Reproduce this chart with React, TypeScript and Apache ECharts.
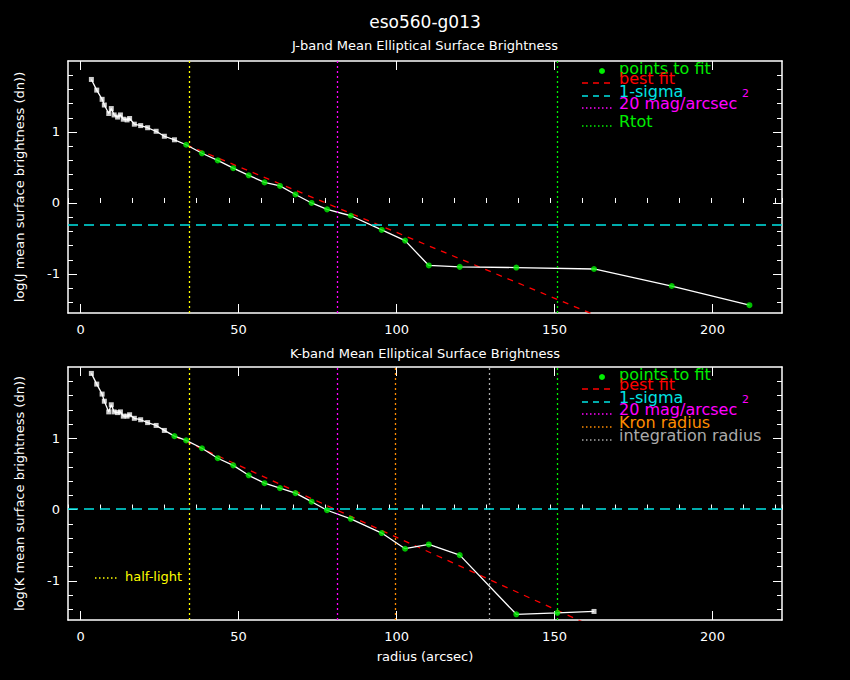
import React, { useEffect, useRef } from "react";
import * as echarts from "echarts";

const jRadius = [3.4,5.1,6.8,7.5,8.9,9.7,10.6,11.7,12.6,13.5,14.7,15.5,17.0,19.0,21.2,23.9,26.5,29.7,33.4,38.4,43.4,48.3,53.2,58.2,63.1,68.0,73.1,78.0,85.5,95.3,102.7,110.2,120.0,137.9,162.5,187.1,211.7];
const jLogSB = [1.74,1.59,1.46,1.38,1.26,1.33,1.24,1.21,1.24,1.18,1.17,1.19,1.11,1.09,1.06,1.01,0.94,0.89,0.82,0.70,0.60,0.49,0.39,0.29,0.24,0.12,0.0,-0.09,-0.18,-0.38,-0.53,-0.88,-0.90,-0.91,-0.93,-1.17,-1.44];
const jFitFrom = 18;
const jFit = [[33.4,0.82],[165,-1.62]];
const jSigma = -0.30;
const jVert = { half: 34.3, mag20: 81.2, rtot: 151.0 };

const kRadius = [3.4,5.1,6.8,7.5,8.9,9.7,10.6,11.7,12.6,13.5,14.7,15.5,17.0,19.0,21.2,23.9,26.5,29.7,33.4,38.4,43.4,48.3,53.2,58.2,63.1,68.0,73.1,78.0,85.5,95.3,102.7,110.2,120.0,137.9,150.9,162.5];
const kLogSB = [1.91,1.76,1.62,1.52,1.37,1.47,1.37,1.36,1.37,1.31,1.31,1.33,1.28,1.26,1.22,1.18,1.11,1.03,0.97,0.86,0.72,0.62,0.48,0.37,0.30,0.23,0.11,-0.01,-0.13,-0.33,-0.55,-0.49,-0.64,-1.47,-1.45,-1.43];
const kFitFrom = 17;
const kFitTo = 34;
const kFit = [[29.7,1.03],[160,-1.60]];
const kSigma = 0.01;
const kVert = { half: 34.3, mag20: 81.2, kron: 99.6, integ: 129.3, rtot: 150.9 };

const yMajor = [-1, 0, 1];
const yMinor = [-1.4, -1.2, -0.8, -0.6, -0.4, -0.2, 0.2, 0.4, 0.6, 0.8, 1.2, 1.4, 1.6, 1.8];
const xMajor = [0, 50, 100, 150, 200];

const FONT = "DejaVu Sans";

function axesFor(i: number, name: string, showXName: boolean) {
  const tick = { inside: true, length: 9, lineStyle: { color: "#fff" } };
  const minor = { show: true, splitNumber: 5, length: 4, lineStyle: { color: "#fff" } };
  const line = { lineStyle: { color: "#fff", width: 1.5 } };
  const x = [
    { type: "value", gridIndex: i, min: -4, max: 222, position: "bottom",
      axisLine: { ...line, onZero: false }, axisTick: { ...tick, customValues: xMajor }, splitLine: { show: false },
      axisLabel: { color: "#fff", fontFamily: FONT, fontSize: 13, margin: 10, customValues: xMajor },
      name: showXName ? "radius (arcsec)" : "", nameLocation: "middle", nameGap: 30,
      nameTextStyle: { color: "#fff", fontFamily: FONT, fontSize: 13 } },
    { type: "value", gridIndex: i, min: -4, max: 222, position: "top",
      axisLine: { ...line, onZero: false }, axisTick: { ...tick, customValues: xMajor },
      axisLabel: { show: false }, splitLine: { show: false } },
    { type: "value", gridIndex: i, min: 0, max: 222, interval: 10, position: "bottom",
      axisLine: { show: false }, axisTick: { inside: true, length: 5, lineStyle: { color: "#fff" } },
      axisLabel: { show: false }, splitLine: { show: false } },
  ];
  const mk = (pos: string, vals: number[], len: number, extra: any = {}) => ({
    type: "value", gridIndex: i, min: -1.55, max: 2.0, position: pos,
    axisLine: { ...line, onZero: false, show: len > 5 },
    axisTick: { inside: true, length: len, lineStyle: { color: "#fff" }, customValues: vals },
    axisLabel: { show: false }, splitLine: { show: false }, ...extra,
  });
  const y = [
    mk("left", yMajor, 9, {
      axisLabel: { color: "#fff", fontFamily: FONT, fontSize: 13, customValues: yMajor },
      name, nameLocation: "middle", nameGap: 42, nameRotate: 90,
      nameTextStyle: { color: "#fff", fontFamily: FONT, fontSize: 13 } }),
    mk("right", yMajor, 9),
    mk("left", yMinor, 5),
    mk("right", yMinor, 5),
  ];
  return { x, y };
}

function vline(x: number, color: string) {
  return { xAxis: x, lineStyle: { color, type: [2, 3], width: 1.3 } };
}

function panelSeries(i: number, r: number[], v: number[], fitFrom: number, fitTo: number, fit: number[][], sigma: number, verts: { x: number; c: string }[]) {
  const xi = i * 3, yi = i * 4;
  const all = r.map((x, k) => [x, v[k]]);
  const white = all.filter((_, k) => k < fitFrom || k > fitTo);
  const green = all.filter((_, k) => k >= fitFrom && k <= fitTo);
  return [
    { type: "line", xAxisIndex: xi, yAxisIndex: yi, data: all, symbol: "none", clip: true,
      lineStyle: { color: "#fff", width: 1.3 }, z: 3,
      markLine: { symbol: "none", silent: true, label: { show: false },
        data: [...verts.map((d) => vline(d.x, d.c)),
          { yAxis: sigma, lineStyle: { color: "#00e5e5", type: [10, 6], width: 1.5 } }] } },
    { type: "line", xAxisIndex: xi, yAxisIndex: yi, data: fit, symbol: "none", clip: true,
      lineStyle: { color: "#ff0000", type: [6, 6], width: 1.3 }, z: 2 },
    { type: "scatter", xAxisIndex: xi, yAxisIndex: yi, data: white, symbol: "rect", symbolSize: 5,
      itemStyle: { color: "#fff" }, z: 4 },
    { type: "scatter", xAxisIndex: xi, yAxisIndex: yi, data: green, symbol: "circle", symbolSize: 6,
      itemStyle: { color: "#00ee00" }, z: 5 },
  ];
}

function legend(top: number, entries: { t: string; c: string; kind: string }[], ys: number[]) {
  const els: any[] = [];
  entries.forEach((e, k) => {
    const y = top + ys[k];
    if (e.kind === "dot") {
      els.push({ type: "circle", shape: { cx: 602, cy: y + 5, r: 3 }, style: { fill: e.c } });
    } else {
      els.push({ type: "line", shape: { x1: 582, y1: y + 7, x2: 612, y2: y + 7 },
        style: { stroke: e.c, lineWidth: 1.3, lineDash: e.kind === "dash" ? [6, 5] : [1.5, 2.5] } });
    }
    els.push({ type: "text", x: 619, y: y - 6, style: { text: e.t, fill: e.c, font: `16px ${FONT}` } });
  });
  return els;
}

export default function App() {
  const ref = useRef<HTMLDivElement>(null);
  useEffect(() => {
    document.body.style.margin = "0";
    const chart = echarts.init(ref.current!, null, { renderer: "svg" });
    const a1 = axesFor(0, "log(J mean surface brightness (dn))", false);
    const a2 = axesFor(1, "log(K mean surface brightness (dn))", true);
    const topLegend = legend(55, [
      { t: "points to fit", c: "#00ee00", kind: "dot" },
      { t: "best fit", c: "#ff0000", kind: "dash" },
      { t: "1-sigma", c: "#00e5e5", kind: "dash" },
      { t: "20 mag/arcsec", c: "#ff00ff", kind: "dot2" },
      { t: "Rtot", c: "#00ee00", kind: "dot2" },
    ], [11, 21, 34, 46, 64]);
    const botLegend = legend(361, [
      { t: "points to fit", c: "#00ee00", kind: "dot" },
      { t: "best fit", c: "#ff0000", kind: "dash" },
      { t: "1-sigma", c: "#00e5e5", kind: "dash" },
      { t: "20 mag/arcsec", c: "#ff00ff", kind: "dot2" },
      { t: "Kron radius", c: "#ff8c00", kind: "dot2" },
      { t: "integration radius", c: "#aaaaaa", kind: "dot2" },
    ], [11, 21, 34, 46, 59, 72]);
    chart.setOption({
      animation: false,
      backgroundColor: "#000",
      grid: [
        { left: 68, top: 61, width: 714, height: 252 },
        { left: 68, top: 367, width: 714, height: 253 },
      ],
      xAxis: [...a1.x, ...a2.x],
      yAxis: [...a1.y, ...a2.y],
      series: [
        ...panelSeries(0, jRadius, jLogSB, jFitFrom, 999, jFit, jSigma, [
          { x: jVert.half, c: "#ffff00" }, { x: jVert.mag20, c: "#ff00ff" }, { x: jVert.rtot, c: "#00ee00" }]),
        ...panelSeries(1, kRadius, kLogSB, kFitFrom, kFitTo, kFit, kSigma, [
          { x: kVert.half, c: "#ffff00" }, { x: kVert.mag20, c: "#ff00ff" }, { x: kVert.kron, c: "#ff8c00" },
          { x: kVert.integ, c: "#aaaaaa" }, { x: kVert.rtot, c: "#00ee00" }]),
      ],
      graphic: [
        { type: "text", x: 425, y: 22, style: { text: "eso560-g013", fill: "#fff", font: `17px ${FONT}`, align: "center", verticalAlign: "middle" } },
        { type: "text", x: 425, y: 45, style: { text: "J-band Mean Elliptical Surface Brightness", fill: "#fff", font: `13px ${FONT}`, align: "center", verticalAlign: "middle" } },
        { type: "text", x: 425, y: 353, style: { text: "K-band Mean Elliptical Surface Brightness", fill: "#fff", font: `13px ${FONT}`, align: "center", verticalAlign: "middle" } },
        ...topLegend,
        { type: "text", x: 742, y: 88, style: { text: "2", fill: "#ff00ff", font: `11px ${FONT}` } },
        ...botLegend,
        { type: "text", x: 742, y: 394, style: { text: "2", fill: "#ff00ff", font: `11px ${FONT}` } },
        { type: "line", shape: { x1: 95, y1: 578, x2: 118, y2: 578 }, style: { stroke: "#ffff00", lineWidth: 1.3, lineDash: [1.5, 2.5] } },
        { type: "text", x: 125, y: 570, style: { text: "half-light", fill: "#ffff00", font: `13px ${FONT}` } },
      ],
    });
    return () => chart.dispose();
  }, []);
  return <div ref={ref} style={{ width: 850, height: 680 }} />;
}
